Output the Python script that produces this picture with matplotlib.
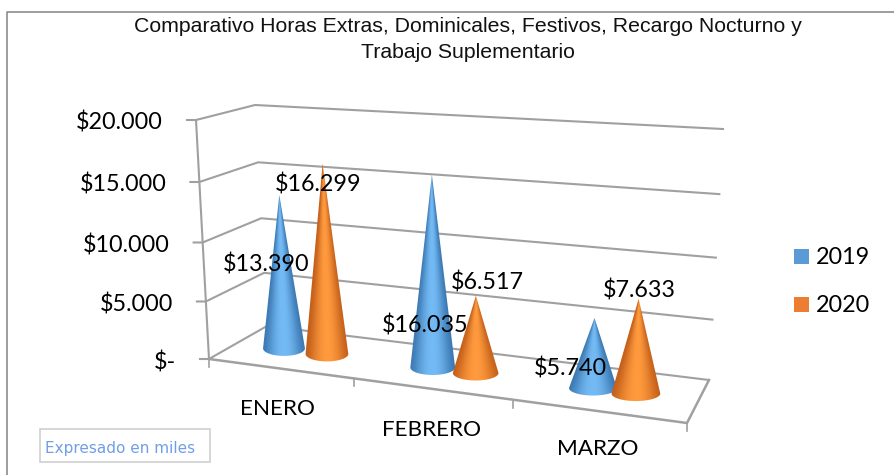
import matplotlib
matplotlib.use("Agg")
import matplotlib.pyplot as plt
from matplotlib.patches import Rectangle, Polygon
import numpy as np

# chart values
categories = ["ENERO", "FEBRERO", "MARZO"]
values_2019 = [13390, 16035, 5740]
values_2020 = [16299, 6517, 7633]
labels_2019 = ["$13.390", "$16.035", "$5.740"]
labels_2020 = ["$16.299", "$6.517", "$7.633"]
y_ticks = [0, 5000, 10000, 15000, 20000]
y_tick_labels = ["$-", "$5.000", "$10.000", "$15.000", "$20.000"]
y_max = 20000
legend_names = ["2019", "2020"]

# box corners in pixels
front_left = np.array([209, 359.0])
back_left = np.array([267, 326.0])
back_right = np.array([709, 380.0])
front_right = np.array([687, 423.0])
top_front_left = np.array([196, 120.0])
top_back_left = np.array([255, 105.0])
top_back_right = np.array([723, 129.0])

BLUE = ["#3d7ab4", "#74bbf5"]
ORANGE = ["#c4601a", "#ff9a3e"]
GRID = "#a0a0a0"
FONT = "Lato"


def frac(v):
    # walls are a little squeezed in the middle
    t = v / y_max
    return t - 0.05 * t * (1 - t)


def wall(bottom, top, v):
    return bottom + (top - bottom) * frac(v)


def floor_point(u):
    # u runs 0..3 along the middle of the floor
    left = (front_left + back_left) / 2
    right = (front_right + back_right) / 2
    return left + (right - left) * u / 3


def cone(ax, u, v, colors):
    cx, cy = floor_point(u)
    r = 20.5 + 1.5 * u
    ry = 7.5
    h = (230 + 10 * u) * frac(v)
    tip = (cx + (cx - 459) * v / y_max * 0.04, cy - h)
    c0 = np.array(matplotlib.colors.to_rgb(colors[0]))
    c1 = np.array(matplotlib.colors.to_rgb(colors[1]))
    # shading follows the slope, lightest down the middle
    x0, x1 = min(cx - r, tip[0]) - 1, max(cx + r, tip[0]) + 1
    y0, y1 = tip[1] - 1, cy + ry + 1
    xx, yy = np.meshgrid(np.linspace(x0, x1, 120), np.linspace(y0, y1, 240))
    d = np.clip((yy - tip[1]) / h, 0.005, 1.1)
    mid = tip[0] + (cx - tip[0]) * d
    s = np.clip((xx - mid) / (r * d), -1, 1)
    m = ((1 - s ** 2) ** 1.6)[:, :, None]
    grad = c0 + (c1 - c0) * m
    th = np.linspace(np.pi, 0, 60)
    outline = [tip] + [(cx + r * np.cos(a), cy + ry * np.sin(a)) for a in th]
    im = ax.imshow(grad, extent=[x0, x1, y1, y0], aspect="auto",
                   interpolation="bilinear", zorder=3)
    clip = Polygon(outline, closed=True, transform=ax.transData, facecolor="none", edgecolor="none")
    ax.add_patch(clip)
    im.set_clip_path(clip)
    return tip


fig = plt.figure(figsize=(8.94, 4.75), dpi=100)
ax = fig.add_axes([0, 0, 1, 1])
ax.axis("off")

# chart border
ax.plot([6.5, 6.5, 894], [475, 12, 12], color="#8c8c8c", lw=1.2)

ax.text(468, 27, "Comparativo Horas Extras, Dominicales, Festivos, Recargo Nocturno y",
        family="Liberation Sans", fontsize=15.3, ha="center", va="center", color="#111111")
ax.text(468, 52, "Trabajo Suplementario",
        family="Liberation Sans", fontsize=15.3, ha="center", va="center", color="#111111")

# walls and gridlines
for v, lab in zip(y_ticks, y_tick_labels):
    a = wall(front_left, top_front_left, v)
    b = wall(back_left, top_back_left, v)
    c = wall(back_right, top_back_right, v)
    ax.plot([a[0] - 9, a[0], b[0], c[0]], [a[1], a[1], b[1], c[1]], color=GRID, lw=1.5)
    ax.text(a[0] - 33, a[1] + 3, lab, family=FONT, fontsize=16.8, ha="right", va="center", color="black")
ax.plot([front_left[0], top_front_left[0]], [front_left[1], top_front_left[1]], color=GRID, lw=1.5)

# floor
ax.plot([front_left[0], front_right[0], back_right[0]],
        [front_left[1], front_right[1], back_right[1]], color=GRID, lw=1.8)
for f in [0, 0.303, 0.636, 1]:
    p = front_left + (front_right - front_left) * f
    ax.plot([p[0], p[0]], [p[1], p[1] + 8], color=GRID, lw=1.2)

# cones, left to right
centres = [0.44, 1.41, 2.455]
step = 0.14
offsets_2019 = [(-13, 70), (-7, 151), (-24, 51)]
offsets_2020 = [(-4, 21), (11, -13), (1, -8)]
texts = []
for i in range(len(categories)):
    t1 = cone(ax, centres[i] - step, values_2019[i], BLUE)
    t2 = cone(ax, centres[i] + step, values_2020[i], ORANGE)
    texts.append((t1, offsets_2019[i], labels_2019[i]))
    texts.append((t2, offsets_2020[i], labels_2020[i]))
for tip, off, lab in texts:
    ax.text(tip[0] + off[0], tip[1] + off[1], lab, family=FONT, fontsize=16.8,
            ha="center", va="center", color="black", zorder=5)

# category labels
cat_pos = [(277, 409), (432, 430), (598, 449)]
for name, pos in zip(categories, cat_pos):
    ax.text(pos[0], pos[1], name, family=FONT, fontsize=16.2, ha="center", va="center", color="black")

# legend
for name, y, col in zip(legend_names, [256.5, 304.5], ["#5b9bd5", "#ed7d31"]):
    ax.add_patch(Rectangle((794, y - 7.5), 15, 15, facecolor=col, edgecolor="none"))
    ax.text(816, y + 1, name, family=FONT, fontsize=16.8, ha="left", va="center", color="black")

# note box
ax.add_patch(Rectangle((39.5, 428.5), 170, 33, facecolor="white", edgecolor="#d0d0d0", lw=1.2))
ax.text(45, 448, "Expresado en miles", family="DejaVu Sans", fontsize=11, ha="left", va="center", color="#6f9fe6")

ax.set_xlim(0, 894)
ax.set_ylim(475, 0)
fig.savefig("out.png", dpi=100)
